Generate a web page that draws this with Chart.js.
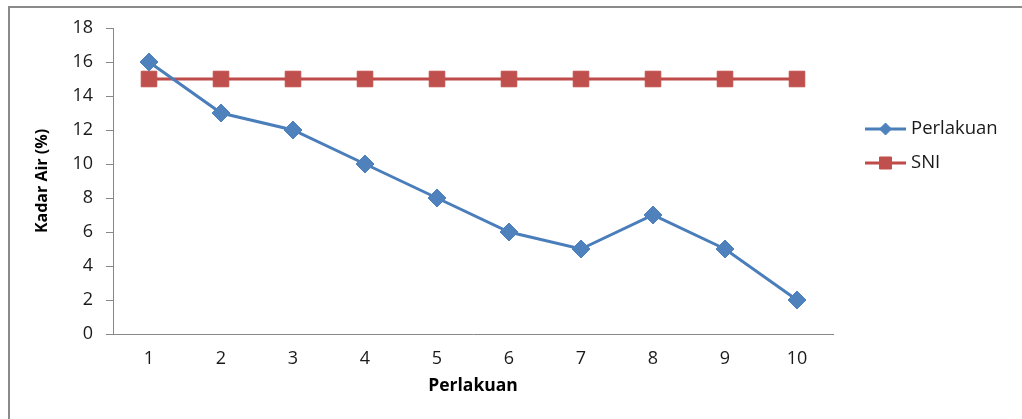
<!DOCTYPE html>
<html>
<head>
<meta charset="utf-8">
<script src="https://cdn.jsdelivr.net/npm/chart.js@4.4.0/dist/chart.umd.min.js"></script>
<style>
  html, body { margin: 0; padding: 0; background: #fff; overflow: hidden; }
  #wrap { position: relative; width: 1022px; height: 419px; }
  #frame { position: absolute; left: 8px; top: 6px; width: 1030px; height: 430px; border: 2px solid #8a8a8a; box-sizing: border-box; }
  canvas { position: absolute; left: 0; top: 0; }
</style>
</head>
<body>
<div id="wrap">
  <div id="frame"></div>
  <canvas id="chart" width="1022" height="419"></canvas>
</div>
<script>
const categories = ['1', '2', '3', '4', '5', '6', '7', '8', '9', '10'];
const perlakuanValues = [16, 13, 12, 10, 8, 6, 5, 7, 5, 2];
const sniValues = [15, 15, 15, 15, 15, 15, 15, 15, 15, 15];
const yTicks = [0, 2, 4, 6, 8, 10, 12, 14, 16, 18];

const fontFamily = "'Open Sans', 'Noto Sans', sans-serif";
const blue = '#4A7EBB';
const blueMarker = '#4F81BD';
const red = '#BE4B48';
const redMarker = '#C0504D';

// legend on the right, drawn like Excel (line with marker)
const excelLegend = {
  id: 'excelLegend',
  afterDraw(chart) {
    const ctx = chart.ctx;
    const items = [
      { label: 'Perlakuan', line: blue, marker: blueMarker, style: 'rectRot', radius: 6, y: 129 },
      { label: 'SNI', line: red, marker: redMarker, style: 'rect', radius: 8.5, y: 163 }
    ];
    ctx.save();
    items.forEach(item => {
      ctx.strokeStyle = item.line;
      ctx.lineWidth = 3;
      ctx.beginPath();
      ctx.moveTo(865, item.y);
      ctx.lineTo(906, item.y);
      ctx.stroke();
      ctx.fillStyle = item.marker;
      ctx.strokeStyle = item.marker;
      ctx.lineWidth = 1;
      Chart.helpers.drawPoint(ctx, { pointStyle: item.style, radius: item.radius, borderWidth: 1 }, 885.5, item.y);
      ctx.fillStyle = '#1a1a1a';
      ctx.font = '18.5px ' + fontFamily;
      ctx.textBaseline = 'middle';
      ctx.textAlign = 'left';
      ctx.fillText(item.label, 911, item.y);
    });
    ctx.restore();
  }
};

new Chart(document.getElementById('chart'), {
  type: 'line',
  data: {
    labels: categories,
    datasets: [
      {
        label: 'Perlakuan',
        data: perlakuanValues,
        borderColor: blue,
        borderWidth: 3,
        pointStyle: 'rectRot',
        pointRadius: 9,
        pointHoverRadius: 9,
        pointBackgroundColor: blueMarker,
        pointBorderColor: blueMarker,
        pointBorderWidth: 1,
        tension: 0
      },
      {
        label: 'SNI',
        data: sniValues,
        borderColor: red,
        borderWidth: 3,
        pointStyle: 'rect',
        pointRadius: 11,
        pointHoverRadius: 11,
        pointBackgroundColor: redMarker,
        pointBorderColor: redMarker,
        pointBorderWidth: 1,
        tension: 0
      }
    ]
  },
  options: {
    responsive: false,
    animation: false,
    layout: { padding: { left: 33, top: 28, right: 189, bottom: 22 } },
    plugins: {
      legend: { display: false },
      tooltip: { enabled: false }
    },
    scales: {
      x: {
        offset: true,
        grid: { display: false, drawTicks: false },
        border: { display: true, color: '#888888', width: 1 },
        ticks: { color: '#1a1a1a', font: { family: fontFamily, size: 18 }, padding: 14 },
        title: { display: true, text: 'Perlakuan', color: '#000', font: { family: fontFamily, size: 17.5, weight: 'bold' }, padding: 0 },
        afterFit(scale) { scale.height = 63; }
      },
      y: {
        min: 0,
        max: 18,
        afterBuildTicks(scale) { scale.ticks = yTicks.map(v => ({ value: v })); },
        grid: { drawOnChartArea: false, drawTicks: true, tickLength: 7, color: '#888888' },
        border: { display: true, color: '#888888', width: 1 },
        ticks: { color: '#1a1a1a', font: { family: fontFamily, size: 18 }, padding: 13 },
        title: { display: true, text: 'Kadar Air (%)', color: '#000', font: { family: fontFamily, size: 16, weight: 'bold' }, padding: 0 },
        afterFit(scale) { scale.width = 80; }
      }
    }
  },
  plugins: [excelLegend]
});
</script>
</body>
</html>
